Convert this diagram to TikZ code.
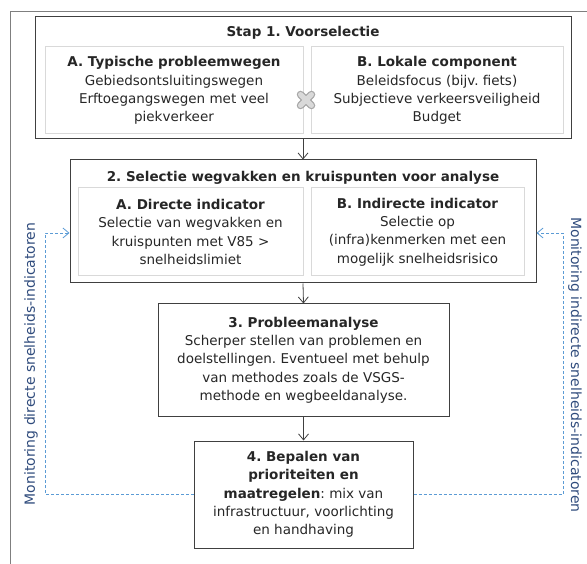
\documentclass[tikz,border=0pt]{standalone}
\usepackage{fontspec}
\setmainfont{DejaVu Sans}
\usepackage{tikz}
\usetikzlibrary{arrows.meta, positioning}
\frenchspacing

\definecolor{framegray}{HTML}{7F7F7F}
\definecolor{boxgray}{HTML}{404040}
\definecolor{innergray}{HTML}{D9D9D9}
\definecolor{textgray}{HTML}{262626}
\definecolor{monblue}{HTML}{5B9BD5}
\definecolor{mondark}{HTML}{2F4B7C}
\definecolor{crossedge}{HTML}{A6A6A6}
\definecolor{crossfill}{HTML}{D9D9D9}

\begin{document}
\begin{tikzpicture}[x=1pt, y=-1pt,
                every node/.style={font=\fontsize{13.5}{18.3}\selectfont, text=textgray},
                title/.style={font=\fontsize{13.5}{18.3}\selectfont\bfseries},
                outer/.style={draw=boxgray, line width=1pt, inner sep=0pt},
                inner/.style={draw=innergray, line width=1pt, align=center, inner sep=0pt},
                stepbox/.style={draw=boxgray, line width=1pt, align=center, inner sep=0pt},
                flow/.style={-{Straight Barb[length=6pt, width=10pt]}, draw=boxgray, line width=0.8pt},
                monitor/.style={-{Straight Barb[length=6pt, width=10pt]}, draw=monblue, line width=0.8pt, dash pattern=on 3pt off 2pt},
                sidelabel/.style={text=mondark, font=\fontsize{14}{17}\selectfont}]
                \useasboundingbox (0,0) rectangle (587,564);

                % frame
                \draw[framegray, line width=1pt] (587,12) -- (10,12) -- (10,564);

                % step 1
                \node[outer, minimum width=536pt, minimum height=122pt] (stap1) at (303,78) {};
                \node[title] (stap1title) at (303,33) {Stap 1. Voorselectie};
                \node[inner, minimum width=258pt, minimum height=87pt] (stap1a) at (174,90.5)
                    {\textbf{A. Typische probleemwegen}\\Gebiedsontsluitingswegen\\Erftoegangswegen met veel\\piekverkeer};
                \node[inner, minimum width=252pt, minimum height=87pt] (stap1b) at (437,90.5)
                    {\textbf{B. Lokale component}\\Beleidsfocus (bijv. fiets)\\Subjectieve verkeersveiligheid\\Budget};

                \coordinate (kruis) at (306,100);
                \draw[crossedge, line width=7.5pt, line cap=round] (kruis) ++(-5.5,-5.5) -- ++(11,11) (kruis) ++(-5.5,5.5) -- ++(11,-11);
                \draw[crossfill, line width=5pt, line cap=round] (kruis) ++(-5.5,-5.5) -- ++(11,11) (kruis) ++(-5.5,5.5) -- ++(11,-11);

                % step 2
                \node[outer, minimum width=466pt, minimum height=123pt] (stap2) at (303,221.5) {};
                \node[title] (stap2title) at (303,178) {2. Selectie wegvakken en kruispunten voor analyse};
                \node[inner, minimum width=225pt, minimum height=88pt] (stap2a) at (190.5,232)
                    {\textbf{A. Directe indicator}\\Selectie van wegvakken en\\kruispunten met V85 >\\snelheidslimiet};
                \node[inner, minimum width=213pt, minimum height=88pt] (stap2b) at (417.5,232)
                    {\textbf{B. Indirecte indicator}\\Selectie op\\(infra)kenmerken met een\\mogelijk snelheidsrisico};

                % step 3 and 4
                \node[stepbox, minimum width=291pt, minimum height=112pt] (stap3) at (303.5,360)
                    {\textbf{3. Probleemanalyse}\\Scherper stellen van problemen en\\doelstellingen. Eventueel met behulp\\van methodes zoals de VSGS-\\methode en wegbeeldanalyse.};
                \node[stepbox, minimum width=219pt, minimum height=107pt] (stap4) at (303.5,494.5)
                    {\textbf{4. Bepalen van}\\\textbf{prioriteiten en}\\\textbf{maatregelen}: mix van\\infrastructuur, voorlichting\\en handhaving};

                \draw[flow] (stap1.south) -- (stap2.north);
                \draw[flow] (stap2.south) -- (stap3.north);
                \draw[flow] (stap3.south) -- (stap4.north);

                % monitoring loops
                \coordinate (monL) at (45,233);
                \coordinate (monR) at (563,233);
                \draw[monitor] (stap4.west) -| (monL) -- (monL -| stap2.west);
                \draw[monitor] (stap4.east) -| (monR) -- (monR -| stap2.east);

                \node[sidelabel, rotate=90] (monLtext) at (31,364) {Monitoring directe snelheids-indicatoren};
                \node[sidelabel, rotate=-90] (monRtext) at (575,365) {Monitoring indirecte snelheids-indicatoren};
            \end{tikzpicture}
\end{document}
